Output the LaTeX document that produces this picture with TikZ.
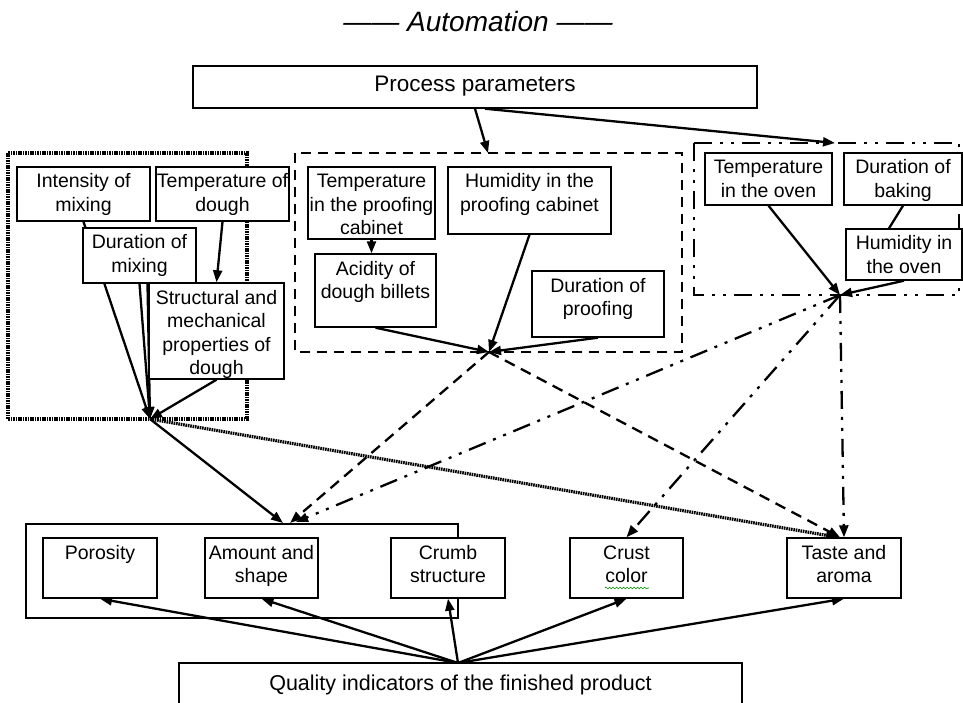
\documentclass[tikz,border=0pt]{standalone}
\usepackage{fontspec}
\setmainfont{Liberation Sans}
\usetikzlibrary{arrows.meta, backgrounds, shadows, decorations.pathmorphing}

\newcommand{\boxfont}{\fontsize{19.5}{23.5}\selectfont}
% text block of a box: width, height (pt), text hung from the top
\newcommand{\bx}[3]{\parbox[c][#2pt][t]{#1pt}{\centering\rule{0pt}{21pt}#3}}

\begin{document}
\begin{tikzpicture}[x=1pt, y=-1pt,
  box/.style={draw, fill=white, line width=1.4pt, inner sep=0pt, font=\boxfont,
    general shadow={fill=black!60, shadow xshift=1pt, shadow yshift=-1.2pt}},
  mixframe/.style={line width=3.6pt, dash pattern=on 1.6pt off 0.8pt},
  proofframe/.style={line width=2.8pt, dash pattern=on 10pt off 7pt},
  ovenframe/.style={line width=2.8pt, dash pattern=on 18pt off 8pt on 3pt off 8pt on 3pt off 8pt},
  link/.style={line width=2.3pt, -{Triangle[length=12pt,width=9pt]}},
  mixlink/.style={link, line width=3.2pt, dash pattern=on 1.6pt off 0.8pt},
  prooflink/.style={link, dash pattern=on 11pt off 7pt},
  ovenlink/.style={link, dash pattern=on 18pt off 8pt on 3pt off 8pt on 3pt off 8pt},
  wavy/.style={draw=green!55!black, line width=0.6pt, decorate,
    decoration={snake, amplitude=0.9pt, segment length=3.5pt}}]
  \useasboundingbox (0,0) rectangle (963,703);

  % title and the two ends
  \node (title) at (478,21) {\fontsize{28}{32}\selectfont\itshape ——~Automation~——};
  \node[box] (proc) at (475,87) {\parbox[c][42pt][t]{564pt}{\centering\fontsize{22.5}{26}\selectfont\rule{0pt}{26pt}Process parameters}};
  \node[box] (qual) at (460.5,688) {\parbox[c][50pt][t]{563pt}{\centering\fontsize{21.5}{25}\selectfont\rule{0pt}{27pt}Quality indicators of the finished product}};

  % mixing
  \node[box] (intens) at (83.5,194)  {\bx{133}{54}{Intensity of\\mixing}};
  \node[box] (tdough) at (222.5,194) {\bx{133}{54}{Temperature of\\dough}};
  \node[box] (dmix)   at (139.5,255.5) {\bx{113}{55}{Duration of\\mixing}};
  \node[box] (struct) at (216.5,331) {\bx{135}{96}{Structural and\\mechanical\\properties of\\dough}};

  % proofing
  \node[box] (tproof) at (371.5,203)   {\bx{127}{72}{Temperature\\in the proofing\\cabinet}};
  \node[box] (hproof) at (529.5,200.5) {\bx{163}{67}{Humidity in the\\proofing cabinet}};
  \node[box] (acid)   at (375.5,290.5) {\bx{121}{73}{Acidity of\\dough billets}};
  \node[box] (dproof) at (598,304)     {\bx{132}{66}{Duration of\\proofing}};

  % baking
  \node[box] (toven) at (768.5,179) {\bx{127}{52}{Temperature\\in the oven}};
  \node[box] (dbake) at (903,179)   {\bx{118}{52}{Duration of\\baking}};
  \node[box] (hoven) at (904,254.5) {\bx{116}{51}{Humidity in\\the oven}};

  % indicators
  \node[box] (poros)  at (100,568)   {\bx{114}{60}{Porosity}};
  \node[box] (amount) at (261.5,568) {\bx{113}{60}{Amount and\\shape}};
  \node[box] (crumb)  at (448,568)   {\bx{114}{60}{Crumb\\structure}};
  \node[box] (crust)  at (626.5,568) {\bx{113}{60}{Crust\\color}};
  \node[box] (taste)  at (844,568)   {\bx{114}{60}{Taste and\\aroma}};
  \draw[wavy] (605,588) -- (649,588);

  \coordinate (A) at (150,419);
  \coordinate (B) at (489,352);
  \coordinate (C) at (840,295);
  \coordinate (Q) at (458,663);
  \coordinate (pin) at (488,153);
  \coordinate (oin) at (835,143);
  \coordinate (ain) at (283,523);
  \coordinate (bin) at (290,523);
  \coordinate (cin) at (296,522);

  \begin{scope}[on background layer]
    % group frames
    \draw[mixframe] (8,153) rectangle (247,419);
    \draw[proofframe] (295,153) rectangle (682,352);
    \draw[ovenframe] (694,143) rectangle (959,295);
    \draw[line width=1.4pt] (26,524) rectangle (458,618);

    \draw[link] (proc.south) -- (pin);
    \draw[link] ([xshift=10pt]proc.south) -- (oin);

    \draw[link] (intens.south) -- (A);
    \draw[link] (tdough.south) -- (struct.north);
    \draw[link] (dmix.south) -- (A);
    \draw[link] ([xshift=8pt]dmix.south) -- (A);
    \draw[link] (struct.south) -- (A);

    \draw[link] (tproof.south) -- (tproof.south |- acid.north);
    \draw[link] (acid.south) -- (B);
    \draw[link] (hproof.south) -- (B);
    \draw[link] (dproof.south) -- (B);

    \draw[link] (toven.south) -- (C);
    \draw[line width=2.3pt] (dbake.south) -- ([xshift=-15pt]hoven.north);
    \draw[link] (hoven.south) -- (C);

    \draw[link] (A) -- (ain);
    \draw[mixlink] (A) -- ([xshift=-6pt]taste.north);
    \draw[prooflink] (B) -- (bin);
    \draw[prooflink] (B) -- ([xshift=-4pt]taste.north);
    \draw[ovenlink] (C) -- (cin);
    \draw[ovenlink] (C) -- (crust.north);
    \draw[ovenlink] (C) -- (taste.north);

    \foreach \q in {poros, amount, crumb, crust, taste}
      \draw[link] (Q) -- (\q.south);
  \end{scope}
\end{tikzpicture}
\end{document}
